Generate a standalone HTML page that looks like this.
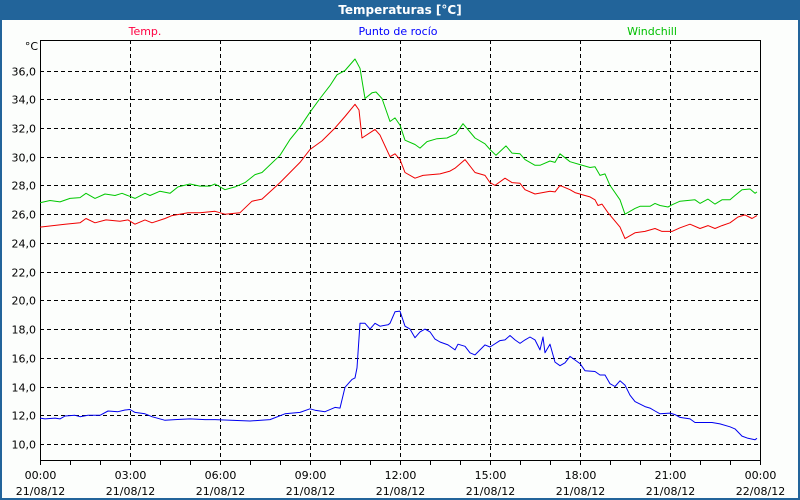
<!DOCTYPE html>
<html><head><meta charset="utf-8"><style>
body{margin:0;background:#fff;}
#wrap{position:relative;width:800px;height:500px;overflow:hidden;background:#fcfefc;font-family:"DejaVu Sans","Liberation Sans",sans-serif;}
#title{position:absolute;left:0;top:0;width:800px;height:20px;background:#22649a;color:#fff;font-weight:bold;font-size:12px;line-height:20px;text-align:center;}
#frameL{position:absolute;left:0;top:20px;width:2px;height:480px;background:#22649a;}
#frameR{position:absolute;right:0;top:20px;width:2px;height:480px;background:#22649a;}
#frameB{position:absolute;left:0;bottom:0;width:800px;height:2px;background:#22649a;}
svg{position:absolute;left:0;top:0;}
</style></head><body>
<div id="wrap">
<div id="title">Temperaturas [°C]</div>
<div id="frameL"></div>
<div id="frameR"></div>
<div id="frameB"></div>
<svg id="chart" width="800" height="500"></svg>
</div>
<script>
const yTicks=[10,12,14,16,18,20,22,24,26,28,30,32,34,36];
const xTickHours=[0,3,6,9,12,15,18,21,24];
const xTickTimes=["00:00","03:00","06:00","09:00","12:00","15:00","18:00","21:00","00:00"];
const xTickDates=["21/08/12","21/08/12","21/08/12","21/08/12","21/08/12","21/08/12","21/08/12","21/08/12","22/08/12"];
const tempMin=[0,50,80,92,110,132,160,176,190,210,224,250,264,296,320,350,370,400,424,444,480,500,520,540,564,590,610,630,638,644,670,680,700,710,720,730,750,766,800,820,830,850,870,890,900,910,930,944,960,970,990,1020,1030,1040,1060,1070,1090,1100,1110,1116,1124,1136,1160,1170,1190,1210,1230,1244,1264,1280,1300,1320,1336,1350,1364,1380,1396,1410,1424,1434];
const tempVal=[25.1,25.3,25.4,25.7,25.4,25.6,25.5,25.6,25.3,25.6,25.4,25.7,25.9,26.1,26.1,26.2,26.0,26.1,26.9,27.05,28.2,28.9,29.6,30.5,31.1,32.0,32.8,33.65,33.25,31.3,31.9,31.5,30.0,30.2,29.8,28.9,28.5,28.7,28.8,29.0,29.2,29.8,28.9,28.7,28.2,28.0,28.5,28.2,28.15,27.7,27.4,27.6,27.55,28.0,27.7,27.5,27.3,27.2,27.0,26.6,26.7,26.1,25.1,24.3,24.7,24.8,25.0,24.8,24.8,25.05,25.3,25.0,25.2,25.0,25.2,25.4,25.8,25.95,25.7,25.9];
const windMin=[0,20,40,60,80,92,110,130,150,164,190,210,220,240,260,276,300,320,340,350,370,390,410,430,444,480,500,520,540,560,580,594,610,630,640,650,664,672,684,700,710,720,730,750,760,774,794,814,832,846,870,890,900,912,932,944,960,970,990,1000,1020,1030,1040,1060,1080,1100,1110,1120,1130,1140,1160,1170,1190,1200,1220,1230,1240,1256,1264,1280,1310,1320,1336,1350,1364,1380,1390,1404,1420,1430,1434];
const windVal=[26.8,26.95,26.85,27.1,27.15,27.45,27.1,27.4,27.3,27.45,27.1,27.45,27.3,27.6,27.45,27.9,28.1,27.95,27.95,28.1,27.7,27.9,28.2,28.75,28.9,30.1,31.2,32.05,33.1,34.05,34.95,35.7,36.0,36.8,36.15,34.05,34.45,34.5,34.05,32.45,32.7,32.2,31.15,30.85,30.6,31.05,31.25,31.3,31.6,32.3,31.3,30.9,30.5,30.1,30.75,30.25,30.2,29.8,29.4,29.4,29.7,29.6,30.2,29.65,29.45,29.25,29.3,28.7,28.8,28.0,27.0,26.0,26.4,26.55,26.55,26.75,26.6,26.5,26.65,26.9,27.0,26.75,27.05,26.7,27.0,27.0,27.3,27.7,27.75,27.45,27.55];
const dewMin=[0,10,30,40,50,70,80,96,120,136,156,170,180,190,210,224,250,270,300,330,350,420,460,490,520,540,550,570,590,600,610,624,630,634,640,650,660,670,680,696,700,710,720,730,740,750,760,770,780,790,800,816,830,836,850,860,870,890,900,920,930,940,950,960,970,980,990,1000,1006,1010,1020,1030,1040,1050,1060,1080,1090,1110,1120,1130,1140,1150,1160,1170,1180,1190,1210,1220,1230,1240,1260,1270,1280,1300,1310,1344,1360,1380,1390,1404,1416,1430,1434];
const dewVal=[11.8,11.75,11.8,11.75,11.95,12.0,11.9,12.0,12.0,12.3,12.25,12.37,12.4,12.2,12.1,11.9,11.65,11.7,11.75,11.7,11.7,11.6,11.7,12.1,12.2,12.45,12.35,12.25,12.55,12.5,13.95,14.5,14.6,15.3,18.4,18.4,18.0,18.4,18.2,18.3,18.4,19.2,19.25,18.2,18.0,17.4,17.8,18.0,17.8,17.3,17.1,16.9,16.55,16.95,16.8,16.35,16.2,16.9,16.75,17.2,17.25,17.55,17.25,17.0,17.25,17.45,17.25,16.55,17.45,16.35,16.95,15.7,15.45,15.65,16.1,15.6,15.1,15.05,14.8,14.8,14.2,14.0,14.4,14.1,13.4,12.95,12.6,12.5,12.3,12.1,12.15,12.05,11.85,11.75,11.5,11.5,11.4,11.2,11.05,10.55,10.4,10.3,10.4];

const svg=document.getElementById('chart');
const NS='http://www.w3.org/2000/svg';
const L=40,R=760,T=40,B=460;
function xScale(min){return L+(R-L)*min/1440;}
function yScale(v){return 444-(v-10)*(444-70.5)/26;}
function mk(tag,attrs){const e=document.createElementNS(NS,tag);for(const k in attrs)e.setAttribute(k,attrs[k]);svg.appendChild(e);return e;}

const bg=mk('rect',{x:L,y:T,width:R-L,height:B-T,fill:'#fcfefc'});



yTicks.forEach(v=>{
  const y=Math.round(yScale(v))+0.5;
  const g=mk('line',{x1:L,x2:R,y1:y,y2:y,stroke:'#000','stroke-width':1,'stroke-dasharray':'4,3'});
  
  
  const t=mk('text',{x:36,y:y+4,'text-anchor':'end','font-size':11,fill:'#000','font-family':'DejaVu Sans, Liberation Sans, sans-serif'});
  t.textContent=v.toFixed(1).replace('.',',');
  
  
});
for(let h=0;h<=24;h++){
  const x=Math.round(xScale(h*60))+0.5;
  const tk=mk('line',{x1:x,x2:x,y1:B,y2:B+5,stroke:'#000','stroke-width':1});
  
  
}
xTickHours.forEach((h,i)=>{
  const x=Math.round(xScale(h*60))+0.5;
  if(h>0&&h<24){
    const g=mk('line',{x1:x,x2:x,y1:T,y2:B,stroke:'#000','stroke-width':1,'stroke-dasharray':'4,3'});
    
    
  }
  const t1=mk('text',{x:x,y:479,'text-anchor':'middle','font-size':11,fill:'#000','font-family':'DejaVu Sans, Liberation Sans, sans-serif'});
  t1.textContent=xTickTimes[i];
  
  
  const t2=mk('text',{x:x,y:495,'text-anchor':'middle','font-size':11,fill:'#000','font-family':'DejaVu Sans, Liberation Sans, sans-serif'});
  t2.textContent=xTickDates[i];
  
  
});
const ax=mk('path',{d:`M${L+0.5} ${T+0.5} H${R+0.5} V${B+0.5} H${L+0.5} Z`,fill:'none',stroke:'#000','stroke-width':1});



const unit=mk('text',{x:38,y:50,'text-anchor':'end','font-size':11,fill:'#000','font-family':'DejaVu Sans, Liberation Sans, sans-serif'});
unit.textContent='°C';



function series(mins,vals,color,name){
  const d=mins.map((m,i)=>(i?'L':'M')+xScale(m).toFixed(1)+' '+yScale(vals[i]).toFixed(1)).join(' ');
  const p=mk('path',{d:d,fill:'none',stroke:color,'stroke-width':1,'stroke-linejoin':'round'});
  
  
}
series(windMin,windVal,'#00c800','windchill-line');
series(tempMin,tempVal,'#f00000','temp-line');
series(dewMin,dewVal,'#0000f0','dew-point-line');

const legends=[['Temp.','#ff0040',145,'legend-temp'],['Punto de rocío','#0000ff',398,'legend-dew-point'],['Windchill','#00c000',652,'legend-windchill']];
legends.forEach(l=>{
  const t=mk('text',{x:l[2],y:35,'text-anchor':'middle','font-size':11,fill:l[1],'font-family':'DejaVu Sans, Liberation Sans, sans-serif'});
  t.textContent=l[0];
  
  
});
</script>
</body></html>
